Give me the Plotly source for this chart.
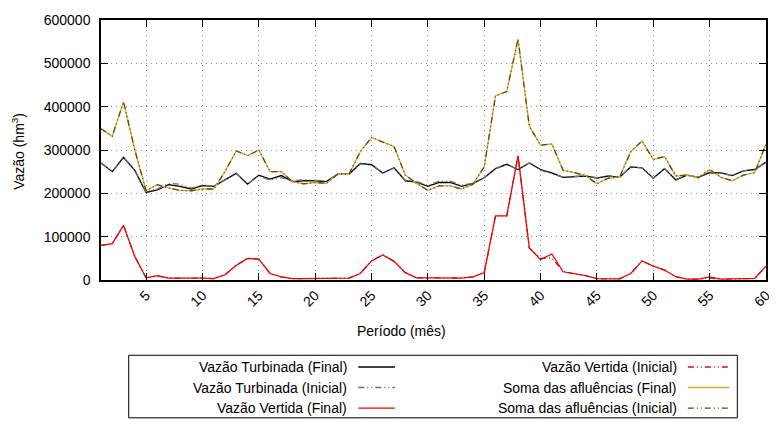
import plotly.graph_objects as go

# periodo (mes)
periodo = list(range(1, 61))

turb_final = [270000, 250000, 283000, 253000, 202000, 208000, 220000, 216000, 210000, 218000,
              216000, 231000, 246000, 221000, 242000, 233000, 241000, 227000, 229000, 229000,
              227000, 244000, 244000, 269000, 266000, 247000, 259000, 229000, 226000, 216000,
              225000, 225000, 216000, 223000, 236000, 257000, 267000, 255000, 270000, 255000,
              247000, 237000, 239000, 240000, 235000, 240000, 237000, 261000, 259000, 235000,
              257000, 231000, 242000, 237000, 248000, 247000, 241000, 252000, 255000, 272000]

turb_inicial = [270000, 250000, 283000, 253000, 204000, 210000, 223000, 221000, 212000, 219000,
                216000, 231000, 246000, 222000, 240000, 231000, 236000, 229000, 231000, 230000,
                228000, 244000, 244000, 268000, 265000, 247000, 258000, 230000, 227000, 218000,
                228000, 228000, 219000, 223000, 236000, 257000, 267000, 255000, 270000, 253000,
                245000, 237000, 239000, 240000, 236000, 240000, 237000, 261000, 259000, 235000,
                257000, 232000, 242000, 237000, 247000, 247000, 241000, 252000, 255000, 272000]

vert_final = [80000, 84000, 126000, 54000, 5000, 10000, 4500, 4500, 6000, 4500,
              3000, 12000, 34000, 50000, 48000, 15000, 7000, 3000, 3000, 3500,
              4500, 4500, 4500, 15000, 44000, 58000, 43000, 17000, 5000, 5000,
              4500, 4500, 4500, 7000, 17000, 148000, 148000, 287000, 74000, 47000,
              60000, 19000, 14000, 10000, 3000, 2500, 2500, 15000, 44000, 32000,
              23000, 7500, 2000, 2000, 7000, 2000, 2500, 3000, 3500, 32000]

vert_inicial = [80000, 84000, 126000, 54000, 5000, 10000, 4500, 4500, 6000, 4500,
                3000, 12000, 34000, 50000, 48000, 15000, 7000, 3000, 3000, 3500,
                4500, 4500, 4500, 15000, 44000, 58000, 43000, 17000, 5000, 5000,
                4500, 4500, 4500, 7000, 17000, 148000, 148000, 287000, 74000, 50000,
                51000, 20000, 14000, 10000, 3000, 2500, 2500, 15000, 44000, 32000,
                23000, 7500, 2000, 2000, 4500, 2000, 2500, 3000, 3500, 32000]

soma_final = [349000, 332000, 411000, 300000, 206000, 220000, 212000, 207000, 206000, 210000,
              210000, 250000, 298000, 287000, 300000, 250000, 250000, 227000, 222000, 225000,
              223000, 244000, 244000, 296000, 329000, 319000, 308000, 242000, 223000, 207000,
              217000, 217000, 210000, 221000, 261000, 425000, 435000, 556000, 355000, 311000,
              314000, 253000, 248000, 241000, 222000, 235000, 237000, 296000, 321000, 278000,
              285000, 240000, 242000, 236000, 255000, 237000, 229000, 242000, 248000, 314000]

soma_inicial = soma_final[:]

fig = go.Figure()

dashdot = "6px,3px,1px,3px,1px,3px"

series = [
    ("Vazão Turbinada (Final)", turb_final, "#000000", "solid"),
    ("Vazão Turbinada (Inicial)", turb_inicial, "#6e6e6e", dashdot),
    ("Vazão Vertida (Final)", vert_final, "#ff0000", "solid"),
    ("Vazão Vertida (Inicial)", vert_inicial, "#c81414", dashdot),
    ("Soma das afluências (Final)", soma_final, "#e0ac2e", "solid"),
    ("Soma das afluências (Inicial)", soma_inicial, "#5e4a10", dashdot),
]

for name, vals, cor, dash in series:
    fig.add_trace(go.Scatter(x=periodo, y=vals, mode="lines", name=name, showlegend=False,
                             line=dict(color=cor, width=1.3, dash=dash)))

# legenda no estilo gnuplot (texto a esquerda, amostra a direita)
# coordenadas em pixels da pagina -> paper
x0, x1 = 101, 773
y0, y1 = 14, 280
def px(x):
    return (x - x0) / (x1 - x0)
def py(y):
    return (y1 - y) / (y1 - y0)

fig.add_shape(type="rect", xref="paper", yref="paper", x0=px(129), x1=px(744), y0=py(421), y1=py(357),
              line=dict(color="#000000", width=1), fillcolor="rgba(0,0,0,0)")

linhas = [369, 390, 411]
colunas = [(352, 361, 398), (685, 694, 736)]
for k, (name, vals, cor, dash) in enumerate(series):
    c = colunas[k // 3]
    ly = linhas[k % 3]
    fig.add_annotation(xref="paper", yref="paper", x=px(c[0]), y=py(ly), text=name, showarrow=False,
                       xanchor="right", yanchor="middle", font=dict(size=14, color="#000000"))
    fig.add_shape(type="line", xref="paper", yref="paper", x0=px(c[1]), x1=px(c[2]), y0=py(ly), y1=py(ly),
                  line=dict(color=cor, width=1.3, dash=dash))

fig.add_annotation(xref="paper", yref="paper", x=px(405), y=py(332), text="Período (mês)", showarrow=False,
                   xanchor="center", yanchor="middle", font=dict(size=14, color="#000000"))
fig.add_annotation(xref="paper", yref="paper", x=px(17), y=py(148), text="Vazão (hm<sup>3</sup>)",
                   showarrow=False, textangle=-90, xanchor="center", yanchor="middle",
                   font=dict(size=14, color="#000000"))

# a pagina tem margem de 8px no body
fig.update_layout(
    width=769, height=414,
    margin=dict(l=93, r=4, t=6, b=142),
    plot_bgcolor="white", paper_bgcolor="white",
    font=dict(family="Liberation Sans, Arial, sans-serif", size=14, color="#000000"),
)
fig.update_xaxes(range=[1, 60], tickvals=list(range(5, 61, 5)), tickangle=-45,
                 showgrid=True, gridcolor="#8c8c8c", griddash="1px,4px", gridwidth=1,
                 showline=True, linecolor="#000000", linewidth=1.5, mirror="allticks",
                 ticks="inside", ticklen=7, tickcolor="#000000", zeroline=False,
                 ticklabeloverflow="allow")
fig.update_yaxes(range=[0, 600000], tickvals=list(range(0, 600001, 100000)), tickformat="d",
                 showgrid=True, gridcolor="#8c8c8c", griddash="1px,4px", gridwidth=1,
                 showline=True, linecolor="#000000", linewidth=1.5, mirror="allticks",
                 ticks="inside", ticklen=7, tickcolor="#000000", zeroline=False,
                 ticklabelstandoff=6, ticklabeloverflow="allow")

fig.write_html("out.html")
